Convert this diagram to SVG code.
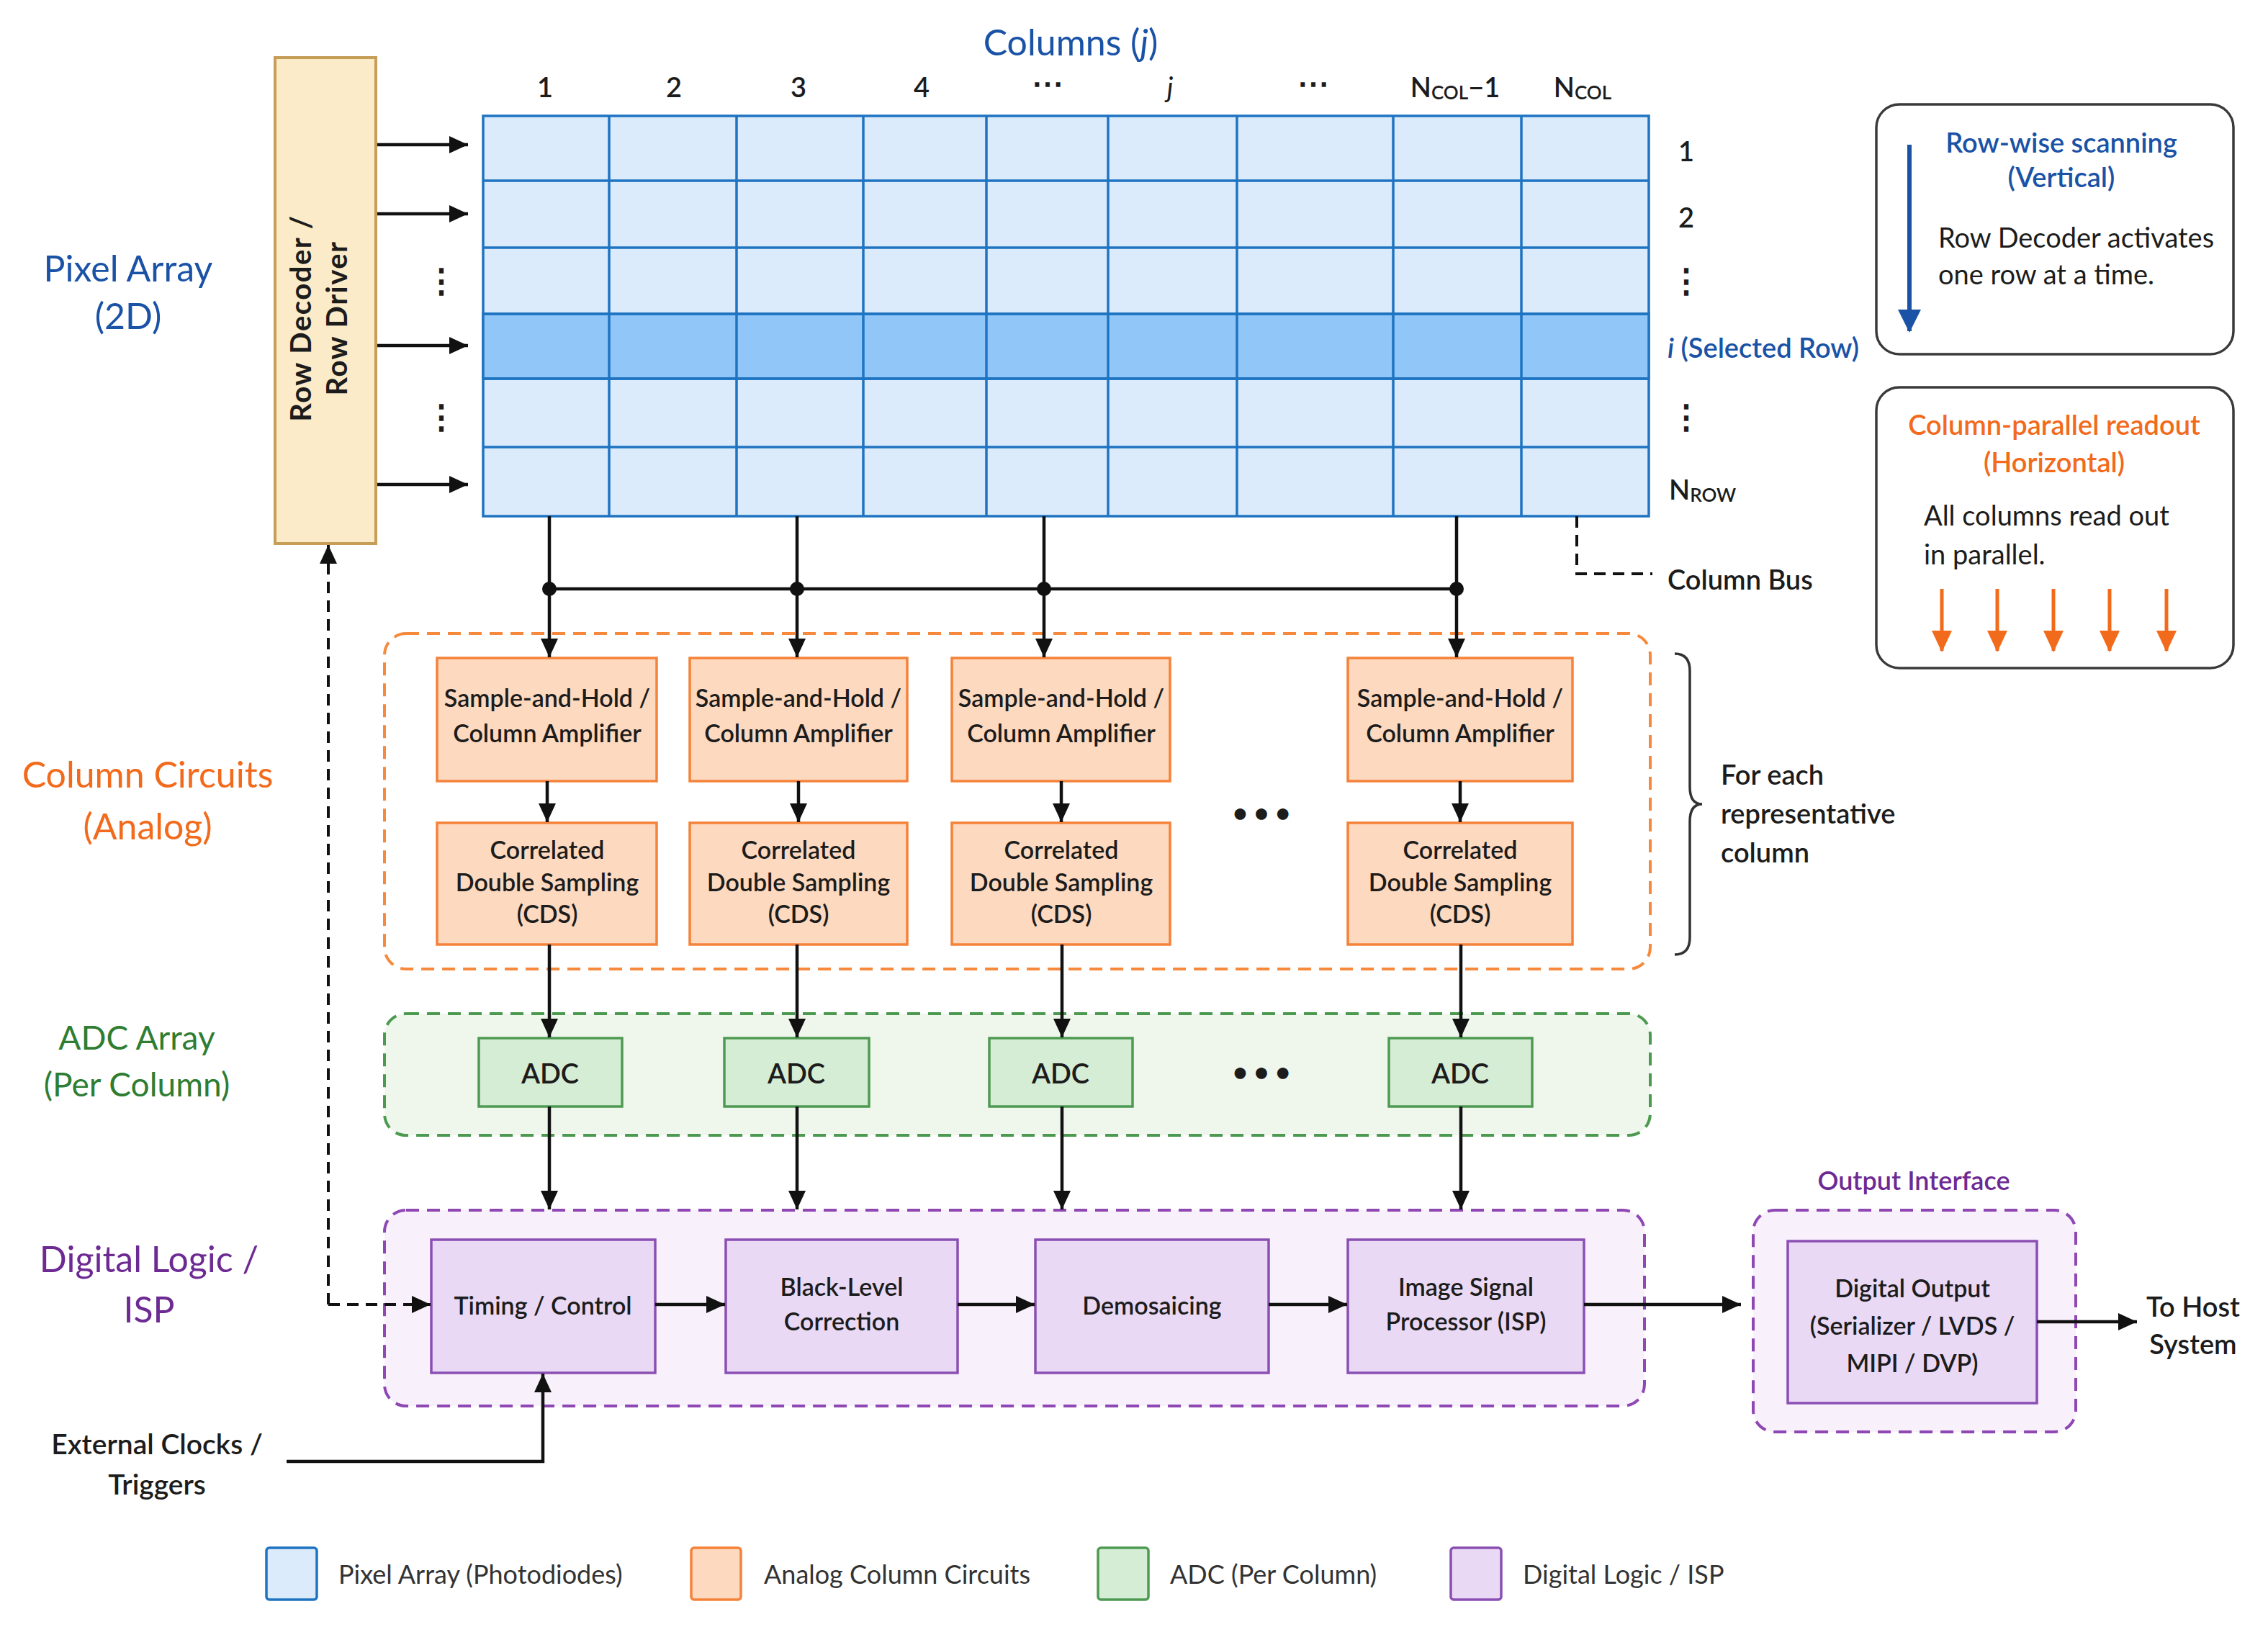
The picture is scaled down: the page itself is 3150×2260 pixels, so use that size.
<svg xmlns="http://www.w3.org/2000/svg" width="3150" height="2260" viewBox="0 0 3150 2260">
<style>
text{font-family:Lato,"Noto Sans","Liberation Sans",sans-serif;fill:#1c1c1c}
.box{font-size:34px;font-weight:600;text-anchor:middle;dominant-baseline:central}
.lbl{font-size:50px;text-anchor:middle;dominant-baseline:central}
.num{font-size:38px;text-anchor:middle;dominant-baseline:central}
.note{font-size:38px;dominant-baseline:central}
.leg{font-size:36px;fill:#333;dominant-baseline:central}
.blue{fill:#1a52a6}.orange{fill:#f26a1b}.green{fill:#2e7d32}.purple{fill:#6d2a93}
.cell{fill:#dbebfb;stroke:#1f74c2;stroke-width:3.5}
.sel{fill:#91c7f8;stroke:#1f74c2;stroke-width:3.5}
.ob{fill:#fdd9bf;stroke:#f5823a;stroke-width:3.5}
.gb{fill:#d6edd5;stroke:#4f9a53;stroke-width:3.5}
.pb{fill:#ead9f4;stroke:#8a4fb3;stroke-width:3.5}
.wire{fill:none;stroke:#111;stroke-width:4.5}
.dash{fill:none;stroke:#111;stroke-width:4;stroke-dasharray:16 10}
.vd{font-size:46px;font-weight:700}
.hd{font-size:36px;font-weight:700}
.sm{font-size:36px}
</style>
<defs>
<marker id="ah" markerUnits="userSpaceOnUse" markerWidth="30" markerHeight="26" refX="26" refY="12" orient="auto"><path d="M0,0 L26,12 L0,24 z" fill="#111"/></marker>
<marker id="ahb" markerUnits="userSpaceOnUse" markerWidth="36" markerHeight="36" refX="30" refY="16" orient="auto"><path d="M0,0 L32,16 L0,32 z" fill="#1a52a6"/></marker>
<marker id="aho" markerUnits="userSpaceOnUse" markerWidth="32" markerHeight="32" refX="28" refY="14" orient="auto"><path d="M0,0 L30,14 L0,28 z" fill="#f26a1b"/></marker>
</defs>
<rect width="3150" height="2260" fill="#ffffff"/>

<!-- Section labels -->
<g id="label-pixel"><text class="lbl blue" x="178" y="372">Pixel Array</text><text class="lbl blue" x="178" y="438">(2D)</text></g>
<g id="label-column"><text class="lbl orange" x="205" y="1075">Column Circuits</text><text class="lbl orange" x="205" y="1147">(Analog)</text></g>
<g id="label-adc"><text class="lbl green" x="190" y="1440" style="font-size:46px">ADC Array</text><text class="lbl green" x="190" y="1505" style="font-size:46px">(Per Column)</text></g>
<g id="label-digital"><text class="lbl purple" x="207" y="1748">Digital Logic /</text><text class="lbl purple" x="207" y="1818">ISP</text></g>

<!-- Column header -->
<g id="col-header">
<text class="lbl blue" x="1487" y="58">Columns (<tspan font-style="italic">j</tspan>)</text>
<text class="num" x="757" y="120" font-weight="600">1</text>
<text class="num" x="936" y="120" font-weight="600">2</text>
<text class="num" x="1109" y="120" font-weight="600">3</text>
<text class="num" x="1280" y="120" font-weight="600">4</text>
<text class="num" x="1455" y="114" style="font-size:44px;font-weight:700">⋯</text>
<text class="num" x="1625" y="120" font-style="italic">j</text>
<text class="num" x="1824" y="114" style="font-size:44px;font-weight:700">⋯</text>
<text class="num" x="2021" y="120" font-weight="600">N<tspan style="font-size:26px" dy="8">COL</tspan><tspan dy="-8">−1</tspan></text>
<text class="num" x="2198" y="120" font-weight="600">N<tspan style="font-size:26px" dy="8">COL</tspan></text>
</g>

<!-- Row decoder -->
<g id="row-decoder">
<rect x="382" y="80" width="140" height="675" fill="#fbebc9" stroke="#c69e58" stroke-width="4"/>
<text transform="translate(452,442) rotate(-90)" font-size="40" font-weight="700" text-anchor="middle" letter-spacing="1.5"><tspan x="0" y="-20">Row Decoder /</tspan><tspan x="0" y="30">Row Driver</tspan></text>
</g>

<!-- Pixel array -->
<g id="pixel-array">
<rect class="cell" x="671" y="161" width="1619" height="556"/>
<rect class="sel" x="671" y="436" width="1619" height="90"/>
<path d="M846,161V717M1023,161V717M1199,161V717M1370,161V717M1539,161V717M1718,161V717M1935,161V717M2113,161V717M671,251H2290M671,344H2290M671,436H2290M671,526H2290M671,621H2290" stroke="#1f74c2" stroke-width="3.5" fill="none"/>
</g>

<!-- Row labels -->
<g id="row-labels">
<text class="num" x="2342" y="209" font-weight="600">1</text>
<text class="num" x="2342" y="301" font-weight="600">2</text>
<text class="num vd" x="2342" y="388">⋮</text>
<text class="note blue" x="2316" y="482" font-weight="600"><tspan font-style="italic">i</tspan> (Selected Row)</text>
<text class="num vd" x="2342" y="577">⋮</text>
<text class="note" x="2318" y="679" font-weight="600">N<tspan style="font-size:26px" dy="8">ROW</tspan></text>
<text class="num vd" x="613" y="388">⋮</text>
<text class="num vd" x="613" y="577">⋮</text>
</g>

<!-- Info panels -->
<g id="panel-row-scan">
<rect x="2606" y="145" width="496" height="347" rx="32" fill="#fff" stroke="#3a3a3a" stroke-width="3.5"/>
<line x1="2652" y1="201" x2="2652" y2="460" stroke="#1a52a6" stroke-width="6" marker-end="url(#ahb)"/>
<text class="note blue" x="2863" y="197" text-anchor="middle" font-weight="600">Row-wise scanning</text>
<text class="note blue" x="2863" y="245" text-anchor="middle" font-weight="600">(Vertical)</text>
<text class="note" x="2692" y="329">Row Decoder activates</text>
<text class="note" x="2692" y="380">one row at a time.</text>
</g>
<g id="panel-col-readout">
<rect x="2606" y="538" width="496" height="390" rx="32" fill="#fff" stroke="#3a3a3a" stroke-width="3.5"/>
<text class="note orange" x="2853" y="589" text-anchor="middle" font-weight="600">Column-parallel readout</text>
<text class="note orange" x="2853" y="641" text-anchor="middle" font-weight="600">(Horizontal)</text>
<text class="note" x="2672" y="715">All columns read out</text>
<text class="note" x="2672" y="769">in parallel.</text>
<g stroke="#f26a1b" stroke-width="5" marker-end="url(#aho)">
<line x1="2697" y1="818" x2="2697" y2="904"/><line x1="2774" y1="818" x2="2774" y2="904"/><line x1="2852" y1="818" x2="2852" y2="904"/><line x1="2930" y1="818" x2="2930" y2="904"/><line x1="3009" y1="818" x2="3009" y2="904"/>
</g>
</g>

<!-- Containers -->
<g id="group-column-circuits"><rect x="534" y="880" width="1758" height="466" rx="30" fill="none" stroke="#f7893c" stroke-width="4" stroke-dasharray="18 11"/></g>
<g id="group-adc"><rect x="534" y="1408" width="1758" height="169" rx="30" fill="#eff7ed" stroke="#4c9a50" stroke-width="4" stroke-dasharray="18 11"/></g>
<g id="group-digital"><rect x="534" y="1681" width="1750" height="272" rx="30" fill="#f8f0fb" stroke="#8e47b3" stroke-width="4" stroke-dasharray="18 11"/></g>
<g id="group-output"><rect x="2435" y="1681" width="448" height="308" rx="30" fill="#f8f0fb" stroke="#8e47b3" stroke-width="4" stroke-dasharray="18 11"/>
<text class="note purple sm" x="2658" y="1639" text-anchor="middle" font-weight="600">Output Interface</text></g>

<!-- S&H boxes -->
<g id="sh1"><rect class="ob" x="607" y="914" width="305" height="171"/><text class="box" x="760" y="968">Sample-and-Hold /</text><text class="box" x="760" y="1017">Column Amplifier</text></g>
<g id="sh2"><rect class="ob" x="958" y="914" width="302" height="171"/><text class="box" x="1109" y="968">Sample-and-Hold /</text><text class="box" x="1109" y="1017">Column Amplifier</text></g>
<g id="sh3"><rect class="ob" x="1322" y="914" width="303" height="171"/><text class="box" x="1474" y="968">Sample-and-Hold /</text><text class="box" x="1474" y="1017">Column Amplifier</text></g>
<g id="sh4"><rect class="ob" x="1872" y="914" width="312" height="171"/><text class="box" x="2028" y="968">Sample-and-Hold /</text><text class="box" x="2028" y="1017">Column Amplifier</text></g>

<!-- CDS boxes -->
<g id="cds1"><rect class="ob" x="607" y="1143" width="305" height="169"/><text class="box" x="760" y="1179">Correlated</text><text class="box" x="760" y="1224">Double Sampling</text><text class="box" x="760" y="1268">(CDS)</text></g>
<g id="cds2"><rect class="ob" x="958" y="1143" width="302" height="169"/><text class="box" x="1109" y="1179">Correlated</text><text class="box" x="1109" y="1224">Double Sampling</text><text class="box" x="1109" y="1268">(CDS)</text></g>
<g id="cds3"><rect class="ob" x="1322" y="1143" width="303" height="169"/><text class="box" x="1474" y="1179">Correlated</text><text class="box" x="1474" y="1224">Double Sampling</text><text class="box" x="1474" y="1268">(CDS)</text></g>
<g id="cds4"><rect class="ob" x="1872" y="1143" width="312" height="169"/><text class="box" x="2028" y="1179">Correlated</text><text class="box" x="2028" y="1224">Double Sampling</text><text class="box" x="2028" y="1268">(CDS)</text></g>
<text class="num hd" x="1752" y="1128">• • •</text>

<!-- ADC boxes -->
<g id="adc1"><rect class="gb" x="665" y="1442" width="199" height="95"/><text class="box" x="764" y="1490" style="font-size:38px">ADC</text></g>
<g id="adc2"><rect class="gb" x="1006" y="1442" width="201" height="95"/><text class="box" x="1106" y="1490" style="font-size:38px">ADC</text></g>
<g id="adc3"><rect class="gb" x="1374" y="1442" width="199" height="95"/><text class="box" x="1473" y="1490" style="font-size:38px">ADC</text></g>
<g id="adc4"><rect class="gb" x="1929" y="1442" width="199" height="95"/><text class="box" x="2028" y="1490" style="font-size:38px">ADC</text></g>
<text class="num hd" x="1752" y="1488">• • •</text>

<!-- Digital boxes -->
<g id="timing"><rect class="pb" x="599" y="1722" width="311" height="185"/><text class="box" x="754" y="1812">Timing / Control</text></g>
<g id="blc"><rect class="pb" x="1008" y="1722" width="322" height="185"/><text class="box" x="1169" y="1786">Black-Level</text><text class="box" x="1169" y="1834">Correction</text></g>
<g id="demosaic"><rect class="pb" x="1438" y="1722" width="324" height="185"/><text class="box" x="1600" y="1812">Demosaicing</text></g>
<g id="isp"><rect class="pb" x="1872" y="1722" width="328" height="185"/><text class="box" x="2036" y="1786">Image Signal</text><text class="box" x="2036" y="1834">Processor (ISP)</text></g>
<g id="digital-output"><rect class="pb" x="2483" y="1724" width="346" height="225"/><text class="box" x="2656" y="1788">Digital Output</text><text class="box" x="2656" y="1840">(Serializer / LVDS /</text><text class="box" x="2656" y="1892">MIPI / DVP)</text></g>

<!-- Free labels -->
<g id="column-bus-label"><text class="note" x="2316" y="804" font-weight="600">Column Bus</text></g>
<g id="brace-label">
<path d="M2326,908 Q2347,908 2347,932 L2347,1093 Q2347,1117 2364,1117 Q2347,1117 2347,1141 L2347,1302 Q2347,1326 2326,1326" fill="none" stroke="#333" stroke-width="3.5"/>
<text class="note" x="2390" y="1075" font-weight="600">For each</text>
<text class="note" x="2390" y="1129" font-weight="600">representative</text>
<text class="note" x="2390" y="1183" font-weight="600">column</text>
</g>
<g id="ext-clock"><text class="box" x="218" y="2005" style="font-size:39px">External Clocks /</text><text class="box" x="218" y="2061" style="font-size:39px">Triggers</text></g>
<g id="to-host"><text class="box" x="3046" y="1814" style="font-size:38px">To Host</text><text class="box" x="3046" y="1866" style="font-size:38px">System</text></g>

<!-- Connectors -->
<g id="connectors">
<line class="wire" x1="524" y1="201" x2="650" y2="201" marker-end="url(#ah)"/>
<line class="wire" x1="524" y1="297" x2="650" y2="297" marker-end="url(#ah)"/>
<line class="wire" x1="524" y1="480" x2="650" y2="480" marker-end="url(#ah)"/>
<line class="wire" x1="524" y1="673" x2="650" y2="673" marker-end="url(#ah)"/>
<line class="wire" x1="763" y1="818" x2="2023" y2="818"/>
<line class="wire" x1="763" y1="717" x2="763" y2="913" marker-end="url(#ah)"/>
<line class="wire" x1="1107" y1="717" x2="1107" y2="913" marker-end="url(#ah)"/>
<line class="wire" x1="1450" y1="717" x2="1450" y2="913" marker-end="url(#ah)"/>
<line class="wire" x1="2023" y1="717" x2="2023" y2="913" marker-end="url(#ah)"/>
<g fill="#111"><circle cx="763" cy="818" r="10"/><circle cx="1107" cy="818" r="10"/><circle cx="1450" cy="818" r="10"/><circle cx="2023" cy="818" r="10"/></g>
<path class="dash" d="M2190,717 V797 H2295"/>
<line class="wire" x1="760" y1="1085" x2="760" y2="1142" marker-end="url(#ah)"/>
<line class="wire" x1="1109" y1="1085" x2="1109" y2="1142" marker-end="url(#ah)"/>
<line class="wire" x1="1474" y1="1085" x2="1474" y2="1142" marker-end="url(#ah)"/>
<line class="wire" x1="2028" y1="1085" x2="2028" y2="1142" marker-end="url(#ah)"/>
<line class="wire" x1="763" y1="1312" x2="763" y2="1441" marker-end="url(#ah)"/>
<line class="wire" x1="1107" y1="1312" x2="1107" y2="1441" marker-end="url(#ah)"/>
<line class="wire" x1="1475" y1="1312" x2="1475" y2="1441" marker-end="url(#ah)"/>
<line class="wire" x1="2029" y1="1312" x2="2029" y2="1441" marker-end="url(#ah)"/>
<line class="wire" x1="763" y1="1537" x2="763" y2="1680" marker-end="url(#ah)"/>
<line class="wire" x1="1107" y1="1537" x2="1107" y2="1680" marker-end="url(#ah)"/>
<line class="wire" x1="1475" y1="1537" x2="1475" y2="1680" marker-end="url(#ah)"/>
<line class="wire" x1="2029" y1="1537" x2="2029" y2="1680" marker-end="url(#ah)"/>
<line class="wire" x1="910" y1="1812" x2="1007" y2="1812" marker-end="url(#ah)"/>
<line class="wire" x1="1330" y1="1812" x2="1437" y2="1812" marker-end="url(#ah)"/>
<line class="wire" x1="1762" y1="1812" x2="1871" y2="1812" marker-end="url(#ah)"/>
<line class="wire" x1="2200" y1="1812" x2="2418" y2="1812" marker-end="url(#ah)"/>
<line class="wire" x1="2829" y1="1836" x2="2968" y2="1836" marker-end="url(#ah)"/>
<path class="dash" d="M456,1812 V757" marker-end="url(#ah)"/>
<path class="dash" d="M456,1812 H598" marker-end="url(#ah)"/>
<path class="wire" d="M398,2030 H754 V1908" marker-end="url(#ah)"/>
</g>

<!-- Legend -->
<g id="legend">
<rect x="370" y="2150" width="70" height="72" rx="4" fill="#dbebfb" stroke="#1f74c2" stroke-width="3.5"/>
<text class="leg" x="470" y="2186">Pixel Array (Photodiodes)</text>
<rect x="960" y="2150" width="69" height="72" rx="4" fill="#fdd9bf" stroke="#f5823a" stroke-width="3.5"/>
<text class="leg" x="1061" y="2186">Analog Column Circuits</text>
<rect x="1525" y="2150" width="70" height="72" rx="4" fill="#d6edd5" stroke="#4f9a53" stroke-width="3.5"/>
<text class="leg" x="1625" y="2186">ADC (Per Column)</text>
<rect x="2015" y="2150" width="70" height="72" rx="4" fill="#ead9f4" stroke="#8a4fb3" stroke-width="3.5"/>
<text class="leg" x="2115" y="2186">Digital Logic / ISP</text>
</g>
</svg>
